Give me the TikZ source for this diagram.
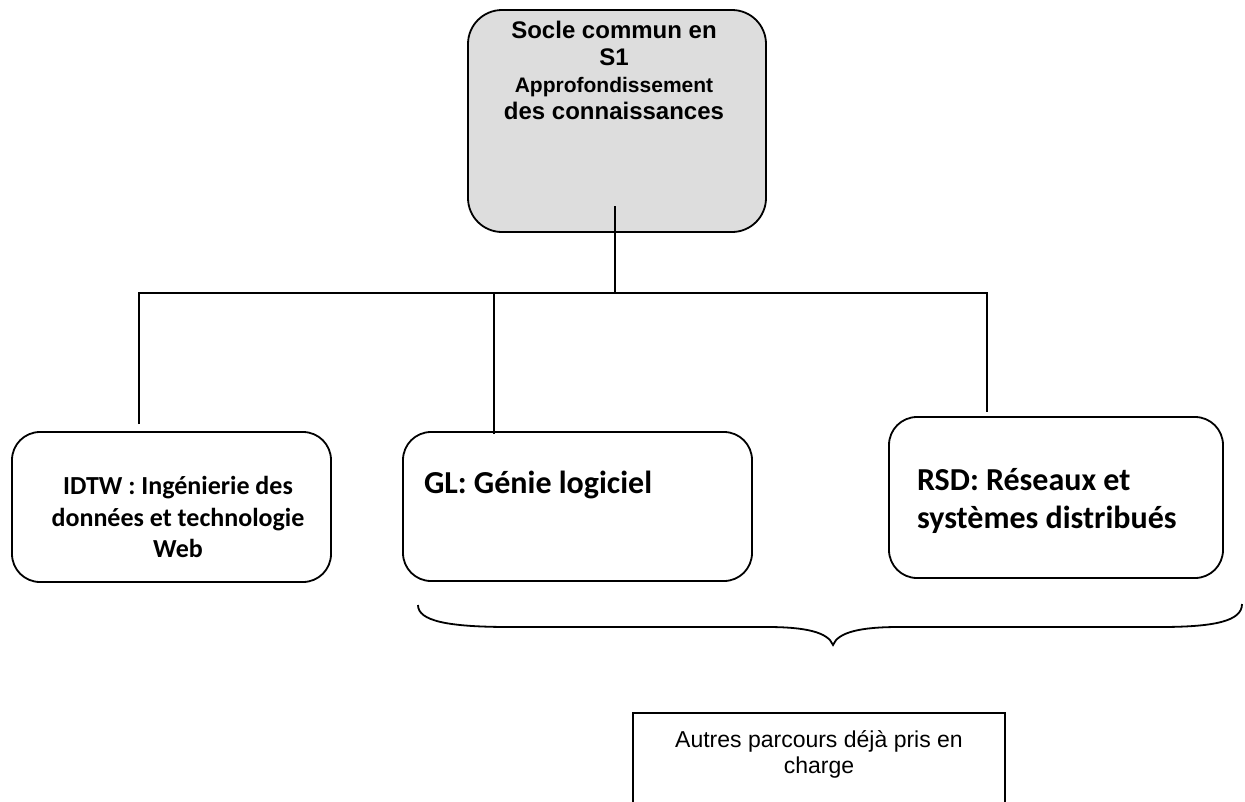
\documentclass[tikz,border=0pt]{standalone}
\usepackage{fontspec}
\setmainfont{Liberation Sans}
\newfontfamily\calibri{Carlito}

\definecolor{gris}{RGB}{221,221,221}

\tikzset{
  parcours/.style={draw, line width=1.8pt, rounded corners=28pt, inner sep=0pt},
  titre/.style={inner sep=0pt, font=\calibri\bfseries\fontsize{32}{38}\selectfont},
}

\begin{document}
\begin{tikzpicture}[x=1pt, y=-1pt, line width=2pt]
      \useasboundingbox (0,0) rectangle (1245,801);

      \node[parcours, fill=gris, rounded corners=34pt, minimum width=298pt, minimum height=222pt] (socle) at (617,121) {};
      \node[anchor=north, align=center, inner sep=0pt, font=\bfseries\fontsize{24}{27}\selectfont] (socletxt) at (614,20)
        {Socle commun en\\S1\\{\fontsize{21}{27}\selectfont Approfondissement}\\des connaissances};

      \node[parcours, minimum width=319pt, minimum height=150pt] (idtw) at (171.5,507) {};
      \node[parcours, minimum width=349pt, minimum height=149pt] (gl) at (577.5,506.5) {};
      \node[parcours, minimum width=334pt, minimum height=161pt] (rsd) at (1056,497.5) {};
      \node[draw, line width=1.3pt, minimum width=372pt, minimum height=117pt] (autres) at (819,771.5) {};

      \node[align=center, inner sep=0pt, font=\calibri\bfseries\fontsize{26}{31.5}\selectfont] (idtwtxt) at (178,517)
        {IDTW : Ingénierie des\\données et technologie\\Web};
      \node[titre, anchor=base west] (gltxt) at (423,493) {GL: Génie logiciel};
      \node[titre, anchor=north west, align=left] (rsdtxt) at (916,467) {RSD: Réseaux et\\systèmes distribués};
      \node[anchor=north, align=center, inner sep=0pt, font=\fontsize{23}{26}\selectfont] (autrestxt) at (819,730)
        {Autres parcours déjà pris en\\charge};

      \coordinate (tronc) at (615,206);
      \coordinate (bus) at (615,293);
      \coordinate (idtwhaut) at (139,424);
      \coordinate (glhaut) at (494,434);
      \coordinate (rsdhaut) at (987,412);

      \draw (tronc) to (bus);
      \draw (idtwhaut) |- (bus) -| (rsdhaut);
      \draw (glhaut) to (glhaut |- bus);

      \draw[line width=1.8pt] (418,605) .. controls (418,621) and (448,627) .. (510,627)
        to (767,627) .. controls (805,627) and (828,632) .. (833,645)
        .. controls (838,632) and (861,627) .. (899,627)
        to (1160,627) .. controls (1215,627) and (1242,621) .. (1242,604);
\end{tikzpicture}
\end{document}
